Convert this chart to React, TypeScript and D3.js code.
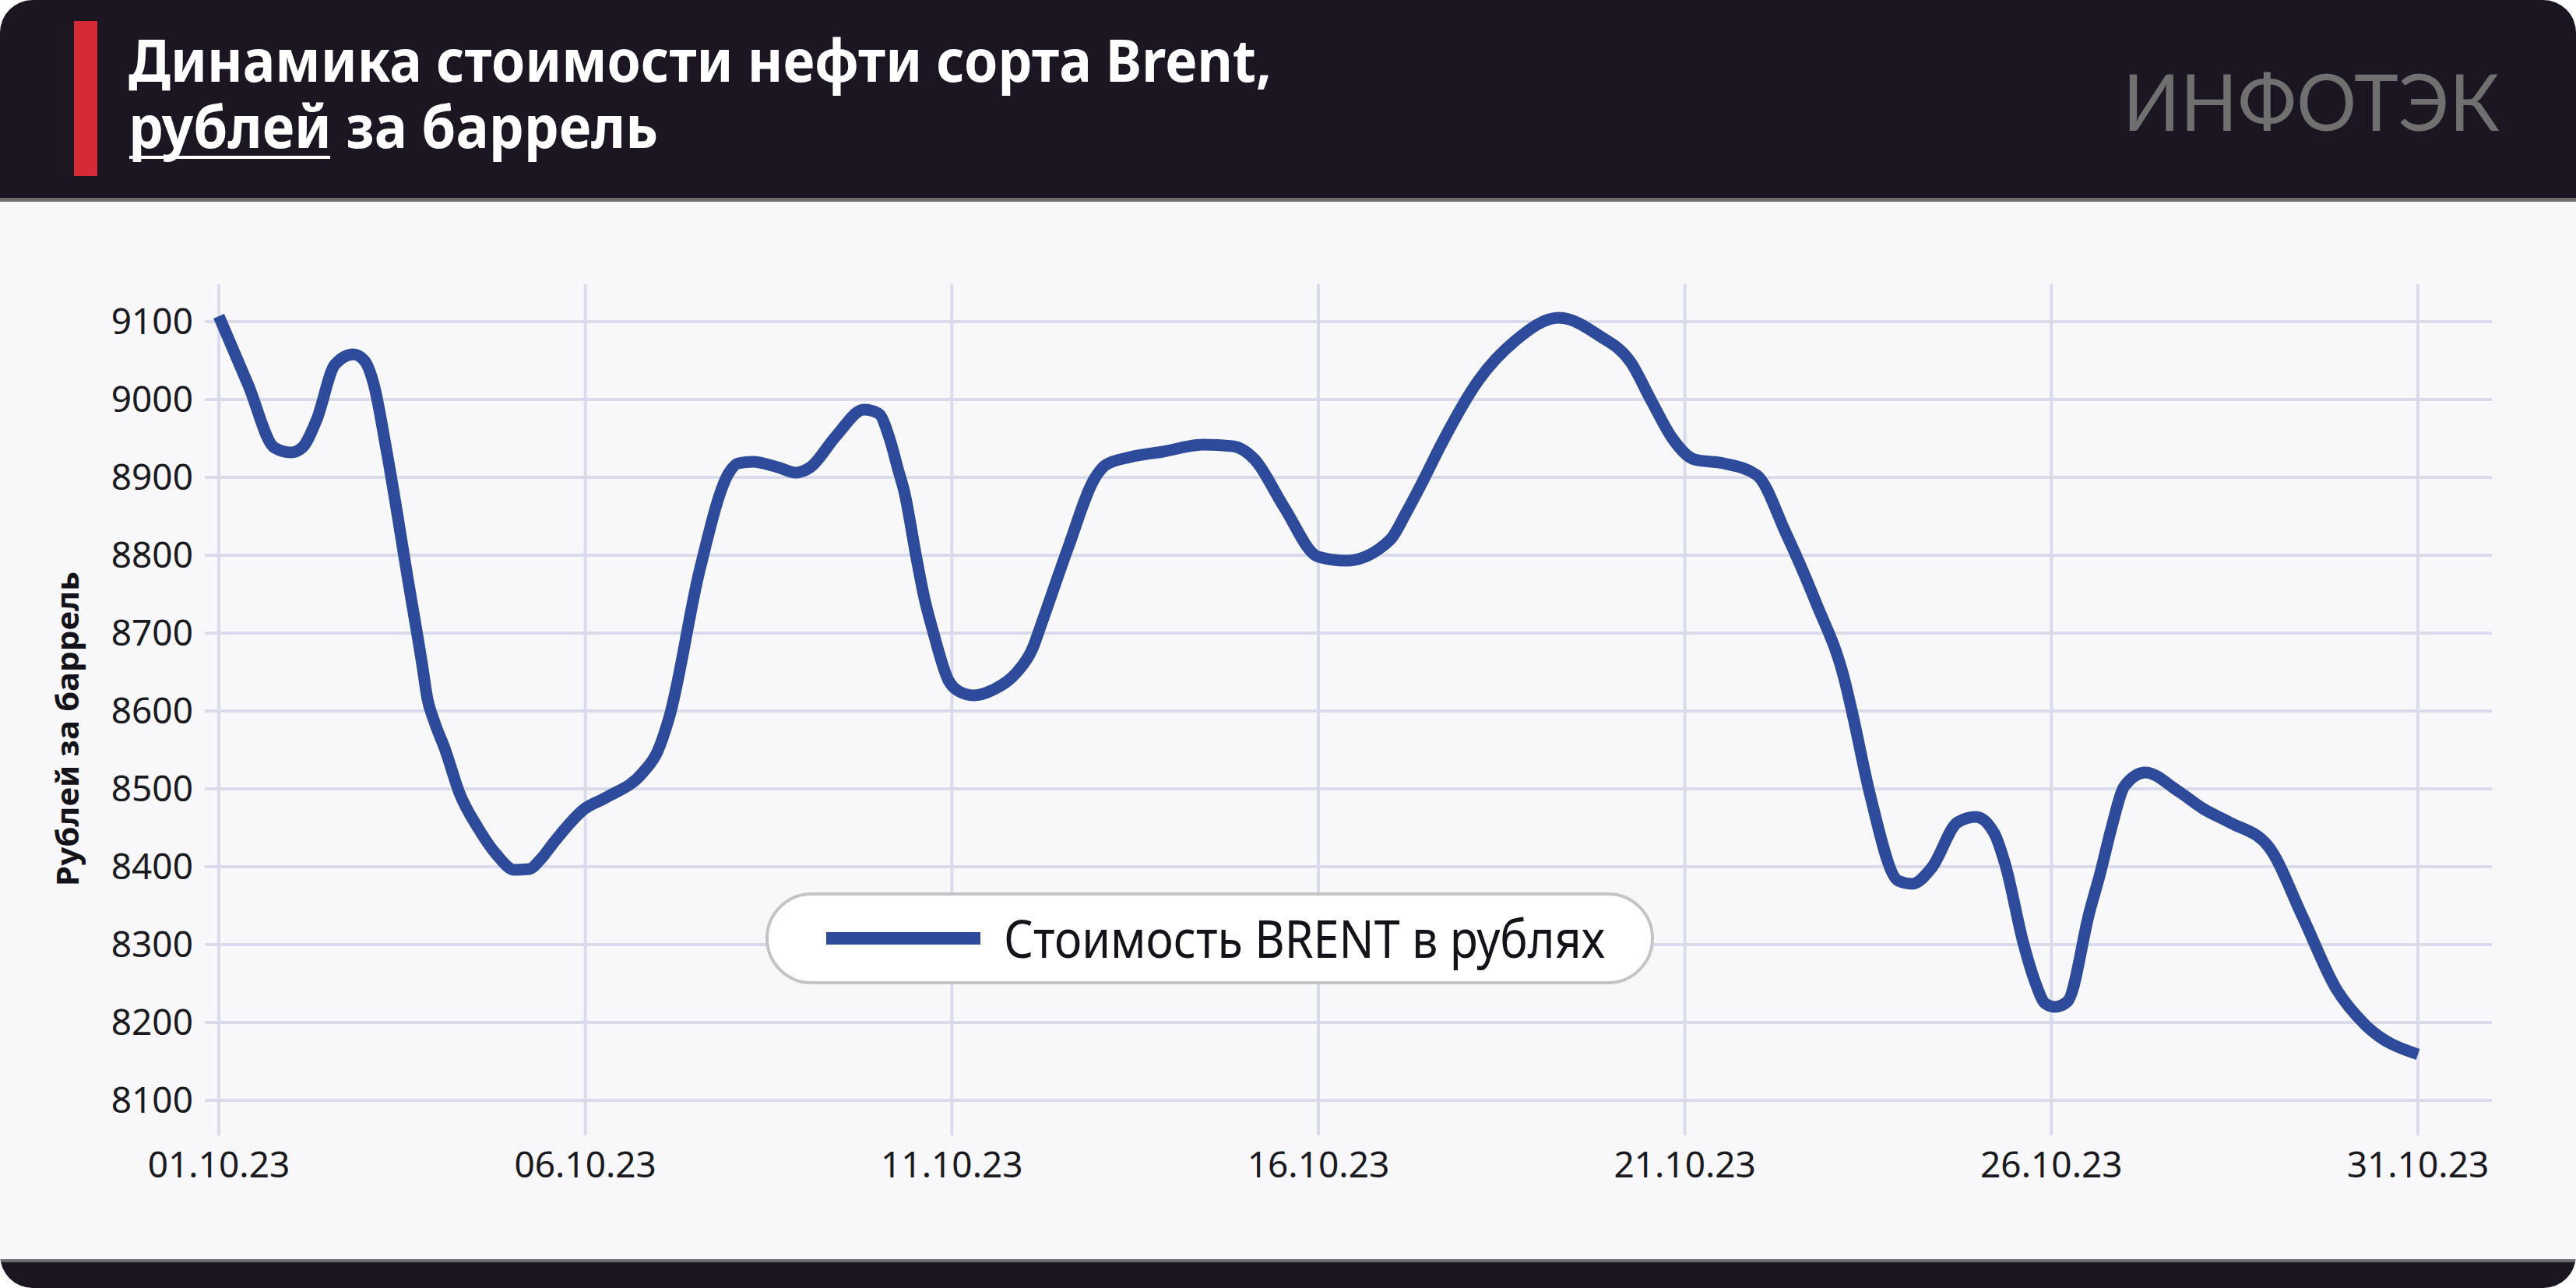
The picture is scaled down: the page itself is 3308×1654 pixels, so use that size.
import React from "react";
import * as d3 from "d3";

// ---- data (day offset from 01.10.23, price in rubles per barrel) ----
const dayOffsets = [
  0, 0.4, 0.76, 0.985, 1.135, 1.335, 1.585, 1.835, 1.985, 2.11, 2.285, 2.585, 2.775, 2.845, 2.945,
  3.085, 3.285, 3.535, 3.785, 4.035, 4.235, 4.385, 4.585, 4.985, 5.285, 5.785, 5.985, 6.145, 6.56,
  6.96, 7.085, 7.285, 7.625, 7.87, 8.07, 8.42, 8.8, 9.0, 9.15, 9.27, 9.35, 9.52, 9.62, 9.75, 9.95,
  10.1, 10.3, 10.6, 10.88, 11.1, 11.23, 11.58, 11.95, 12.1, 12.43, 12.88, 13.43, 13.83, 14.13, 14.53,
  15.0, 15.38, 15.98, 16.2, 16.43, 16.68, 17.18, 17.68, 18.28, 18.83, 19.26, 19.55, 19.83, 20.13,
  20.53, 20.98, 21.38, 21.78, 22.18, 22.28, 22.53, 22.91, 23.1, 23.37, 23.72, 23.97, 24.22, 24.37,
  24.62, 24.77, 24.92, 25.05, 25.22, 25.52, 25.67, 25.82, 26.0, 26.28, 26.73, 27.08, 27.43, 27.96,
  28.43, 28.88, 29.28, 30.0,
];
const prices = [
  9107, 9019, 8938, 8932, 8938, 8974, 9045, 9058, 9050, 9021, 8936, 8766, 8659, 8616, 8585,
  8551, 8494, 8450, 8416, 8396, 8397, 8409, 8433, 8474, 8489, 8521, 8548, 8592, 8781,
  8906, 8918, 8920, 8913, 8906, 8913, 8953, 8987, 8982, 8950, 8909, 8882, 8795, 8747, 8700, 8640,
  8625, 8620, 8629, 8649, 8680, 8714, 8808, 8899, 8916, 8926, 8933, 8942, 8940, 8923, 8862,
  8798, 8793, 8820, 8855, 8896, 8943, 9024, 9075, 9105, 9082, 9048, 8997, 8950, 8923,
  8918, 8903, 8828, 8741, 8639, 8599, 8491, 8382, 8378, 8399, 8457, 8464, 8443, 8403,
  8301, 8254, 8224, 8220, 8227, 8342, 8393, 8450, 8504, 8521, 8497, 8474, 8457, 8426,
  8335, 8244, 8197, 8159,
];
const xTickDays = [0, 5, 10, 15, 20, 25, 30];
const xTickLabels = ["01.10.23", "06.10.23", "11.10.23", "16.10.23", "21.10.23", "26.10.23", "31.10.23"];
const yTicks = [8100, 8200, 8300, 8400, 8500, 8600, 8700, 8800, 8900, 9000, 9100];

const titleLine1 = "Динамика стоимости нефти сорта Brent,";
const titleUnderlined = "рублей";
const titleRest = " за баррель";
const yAxisTitle = "Рублей за баррель";
const legendLabel = "Стоимость BRENT в рублях";
const logoText = "ИНФОТЭК";

const W = 3308;
const H = 1654;

export default function App() {
  const x = d3.scaleLinear().domain([0, 30]).range([281, 3105]);
  const y = d3.scaleLinear().domain([8100, 9100]).range([1413, 413]);
  const pts: [number, number][] = dayOffsets.map((d, i) => [d, prices[i]]);
  const line = d3
    .line<[number, number]>()
    .x((d) => x(d[0]))
    .y((d) => y(d[1]))
    .curve(d3.curveMonotoneX);

  const font = "'Noto Sans', 'Open Sans', sans-serif";
  const gridColor = "#dadbea";

  return (
    <svg
      width={W}
      height={H}
      viewBox={`0 0 ${W} ${H}`}
      style={{ position: "absolute", left: 0, top: 0, display: "block" }}
    >
      <defs>
        <clipPath id="card">
          <rect x={0} y={0} width={W} height={H} rx={42} ry={42} />
        </clipPath>
      </defs>
      <rect x={0} y={0} width={W} height={H} fill="#ffffff" />
      <g clipPath="url(#card)">
        <rect x={0} y={0} width={W} height={H} fill="#f8f8fb" />
        {/* header */}
        <rect x={0} y={0} width={W} height={255} fill="#1b1621" />
        <rect x={0} y={254} width={W} height={5} fill="#6c6b6e" />
        {/* footer */}
        <rect x={0} y={1617} width={W} height={5} fill="#6c6b6e" />
        <rect x={0} y={1621} width={W} height={40} fill="#1b1621" />
      </g>

      {/* red bar */}
      <rect x={95} y={27} width={30} height={199} fill="#d52b36" />

      {/* title */}
      <text
        x={165}
        y={105}
        fill="#ffffff"
        fontFamily={font}
        fontWeight={700}
        fontSize={76}
        textLength={1468}
        lengthAdjust="spacingAndGlyphs"
      >
        {titleLine1}
      </text>
      <text
        x={165}
        y={190}
        fill="#ffffff"
        fontFamily={font}
        fontWeight={700}
        fontSize={76}
        textLength={680}
        lengthAdjust="spacingAndGlyphs"
      >
        {titleUnderlined + titleRest}
      </text>
      <rect x={166} y={200} width={258} height={4} fill="#ffffff" />

      {/* logo */}
      <text
        x={2726}
        y={168}
        fill="#707070"
        fontFamily="Lato, 'Noto Sans', sans-serif"
        fontWeight={400}
        fontSize={100}
        textLength={484}
        lengthAdjust="spacingAndGlyphs"
      >
        {logoText}
      </text>

      {/* grid */}
      {yTicks.map((t) => (
        <line key={"h" + t} x1={263} x2={3200} y1={y(t)} y2={y(t)} stroke={gridColor} strokeWidth={4} />
      ))}
      {xTickDays.map((d) => (
        <line key={"v" + d} x1={x(d)} x2={x(d)} y1={365} y2={1458} stroke={gridColor} strokeWidth={4} />
      ))}

      {/* y tick labels */}
      {yTicks.map((t) => (
        <text
          key={"yl" + t}
          x={248}
          y={y(t) + 16}
          textAnchor="end"
          fontFamily={font}
          fontSize={46}
          fill="#1a1a1f"
        >
          {t}
        </text>
      ))}

      {/* x tick labels */}
      {xTickDays.map((d, i) => (
        <text
          key={"xl" + d}
          x={x(d)}
          y={1512}
          textAnchor="middle"
          fontFamily={font}
          fontSize={46}
          fill="#1a1a1f"
        >
          {xTickLabels[i]}
        </text>
      ))}

      {/* y axis title */}
      <text
        transform="translate(101,936) rotate(-90)"
        textAnchor="middle"
        fontFamily={font}
        fontWeight={700}
        fontSize={40}
        fill="#15131a"
        textLength={404}
        lengthAdjust="spacingAndGlyphs"
      >
        {yAxisTitle}
      </text>

      {/* series */}
      <path
        d={line(pts) || ""}
        fill="none"
        stroke="#2e4b9b"
        strokeWidth={15}
        strokeLinejoin="round"
        strokeLinecap="butt"
      />

      {/* legend */}
      <rect x={985} y={1148} width={1137} height={114} rx={57} ry={57} fill="#ffffff" stroke="#c4c4c6" strokeWidth={4} />
      <line x1={1061} x2={1259} y1={1205} y2={1205} stroke="#2e4b9b" strokeWidth={16} />
      <text
        x={1289}
        y={1230}
        fontFamily={font}
        fontSize={68}
        fill="#15131a"
        textLength={772}
        lengthAdjust="spacingAndGlyphs"
      >
        {legendLabel}
      </text>
    </svg>
  );
}
